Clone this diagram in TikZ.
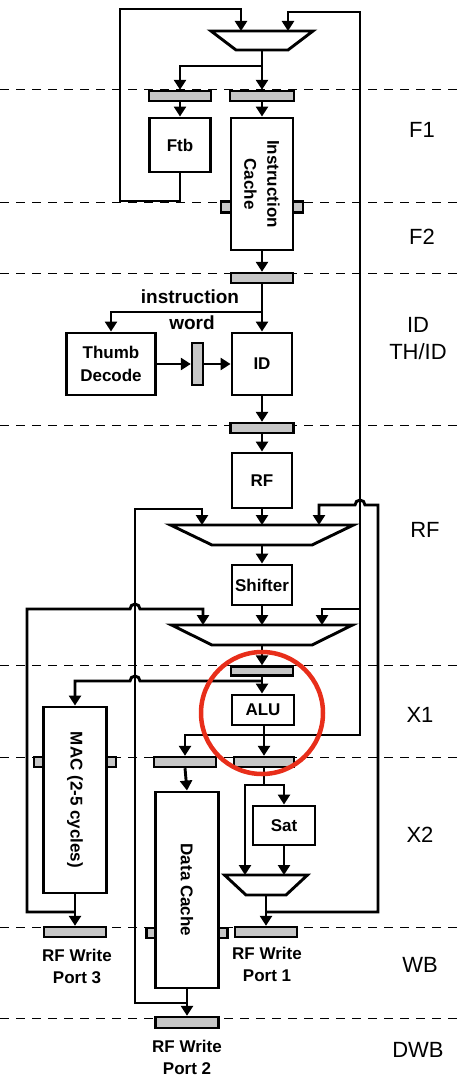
\documentclass[tikz,border=0pt]{standalone}
\usepackage{fontspec}
\setmainfont{Liberation Sans}
\usepackage{xcolor}
\usepackage{tikz}
\usetikzlibrary{arrows.meta}

\definecolor{ringred}{RGB}{232,46,26}

\begin{document}
\begin{tikzpicture}[x=1pt, y=-1pt, line width=2.9pt,
    >={Triangle[length=10pt,width=12pt]},
    unit/.style={draw, fill=white, inner sep=0pt},
    unittext/.style={inner sep=0pt, align=center, font=\fontsize{17}{23}\selectfont\bfseries},
    latch/.style={draw, fill=gray!45, line width=2.4pt, inner sep=0pt, minimum height=10pt},
    muxbox/.style={inner sep=0pt, outer sep=0pt},
    wordlbl/.style={font=\fontsize{19}{23}\selectfont\bfseries},
    portlbl/.style={align=center, font=\fontsize{17}{22}\selectfont\bfseries},
    stage/.style={align=center, font=\fontsize{22}{27}\selectfont},
    pipe/.style={line width=1pt, dash pattern=on 9pt off 7pt}]
    \useasboundingbox (0,0) rectangle (464,1078);

    % Pipeline boundaries
    \foreach \y in {90,202,273,425,665,757,927,1018} {
        \draw[pipe] (0,\y) -- (464,\y);
    }

    % Stage names
    \node[stage] (sF1) at (422,130) {F1};
    \node[stage] (sF2) at (422,237) {F2};
    \node[stage] (sID) at (418,339) {ID\\TH/ID};
    \node[stage] (sRF) at (425,530) {RF};
    \node[stage] (sX1) at (420,715) {X1};
    \node[stage] (sX2) at (420,835) {X2};
    \node[stage] (sWB) at (420,965) {WB};
    \node[stage] (sDWB) at (418,1050) {DWB};

    % Multiplexers (trapezoids drawn from their boxes)
    \node[muxbox, minimum width=102pt, minimum height=19pt] (pcmux) at (262,40.5) {};
    \node[muxbox, minimum width=183pt, minimum height=20pt] (rfmux) at (262,535) {};
    \node[muxbox, minimum width=181pt, minimum height=20pt] (exmux) at (262,635) {};
    \node[muxbox, minimum width=83pt, minimum height=20pt] (satmux) at (266,885) {};
    \foreach \m/\d in {pcmux/25, rfmux/41.5, exmux/40.5, satmux/21.5} {
        \draw[fill=white] (\m.north west) -- (\m.north east)
            -- ([xshift=-\d pt]\m.south east) -- ([xshift=\d pt]\m.south west) -- cycle;
    }

    % Fetch
    \node[latch, minimum width=62pt] (lftb) at (180,96) {};
    \node[latch, minimum width=64pt] (lpc) at (262,96) {};
    \node[unit, minimum width=61pt, minimum height=54pt] (ftb) at (180,145) {};
    \node[unittext] (ftbtxt) at (ftb) {Ftb};
    \node[latch, minimum width=82pt, minimum height=11pt] (licst) at (262,207) {};
    \node[unit, minimum width=62pt, minimum height=132pt] (icache) at (262,184) {};
    \node[unittext, rotate=-90] (icachetxt) at (icache) {Instruction\\Cache};

    % Decode
    \node[latch, minimum width=62pt] (lif) at (262,278) {};
    \node[unit, minimum width=89pt, minimum height=62pt] (thumb) at (111,364) {};
    \node[unittext] (thumbtxt) at (thumb) {Thumb\\Decode};
    \node[latch, minimum width=11pt, minimum height=42pt] (lth) at (197.5,364) {};
    \node[unit, minimum width=60pt, minimum height=62pt] (id) at (262,364) {};
    \node[unittext] (idtxt) at (id) {ID};
    \node[wordlbl] (iwtop) at (190,297) {instruction};
    \node[wordlbl] (iwbot) at (192,323) {word};

    % Register read and execute
    \node[latch, minimum width=63pt] (lid) at (262,428) {};
    \node[unit, minimum width=60pt, minimum height=55pt] (rf) at (262,480.5) {};
    \node[unittext] (rftxt) at (rf) {RF};
    \node[unit, minimum width=60pt, minimum height=40pt] (shifter) at (262,585) {};
    \node[unittext] (shiftertxt) at (shifter) {Shifter};
    \node[latch, minimum width=62pt, minimum height=9pt] (lex) at (262,671) {};
    \node[unit, minimum width=62pt, minimum height=30pt] (alu) at (263,710) {};
    \node[unittext] (alutxt) at (alu) {ALU};

    % Memory, saturation, multiply
    \node[latch, minimum width=82pt] (lmst) at (75,762) {};
    \node[unit, minimum width=63pt, minimum height=186pt] (mac) at (75,800) {};
    \node[unittext, rotate=-90] (mactxt) at (mac) {MAC (2-5 cycles)};
    \node[latch, minimum width=62pt] (lmem) at (185,762) {};
    \node[latch, minimum width=60pt] (lalu) at (264,762) {};
    \node[latch, minimum width=81pt] (ldst) at (187,933) {};
    \node[unit, minimum width=63pt, minimum height=196pt] (dcache) at (187,890) {};
    \node[unittext, rotate=-90] (dcachetxt) at (dcache) {Data Cache};
    \node[unit, minimum width=62pt, minimum height=39pt] (sat) at (284,825.5) {};
    \node[unittext] (sattxt) at (sat) {Sat};

    % Write ports
    \node[latch, minimum width=62pt] (lwb3) at (75,932) {};
    \node[latch, minimum width=62pt] (lwb1) at (266,932) {};
    \node[latch, minimum width=63pt, minimum height=11pt] (lwb2) at (187,1022.5) {};
    \node[portlbl] (p3) at (77,966) {RF Write\\Port 3};
    \node[portlbl] (p1) at (267,964) {RF Write\\Port 1};
    \node[portlbl] (p2) at (187,1057) {RF Write\\Port 2};

    % Split points
    \coordinate (fsplit) at (262,66);
    \coordinate (iword) at (262,312);
    \coordinate (macj) at (262,681);
    \coordinate (aluj) at (264,735);
    \coordinate (fwdalu) at (360,609);
    \coordinate (satj) at (264,785);
    \coordinate (wb1j) at (266,912);
    \coordinate (wb3j) at (75,912);
    \coordinate (wb2j) at (187,1003);

    % Fetch wires
    \draw[->] (pcmux.south) -- (lpc.north);
    \draw[->] (fsplit) -| (lftb.north);
    \draw[->] (lftb.south) -- (ftb.north);
    \draw[->] (lpc.south) -- (icache.north);
    \draw[->] (ftb.south) |- (120,201) |- (241,9) -- ([xshift=-21pt]pcmux.north);

    % Decode wires
    \draw[->] (icache.south) -- (lif.north);
    \draw[->] (lif.south) -- (id.north);
    \draw[->] (iword) -| (thumb.north);
    \draw[->] (thumb.east) -- (lth.west);
    \draw[->] (lth.east) -- (id.west);

    % Datapath
    \draw[->] (id.south) -- (lid.north);
    \draw[->] (lid.south) -- (rf.north);
    \draw[->] (rf.south) -- (rfmux.north);
    \draw[->] (rfmux.south) -- (shifter.north);
    \draw[->] (shifter.south) -- (exmux.north);
    \draw[->] (exmux.south) -- (lex.north);
    \draw[->] (lex.south) -- (lex.south |- alu.north);
    \draw[->] (macj) -- (140,681) arc[start angle=0, end angle=180, radius=5pt] -| (mac.north);

    % ALU result
    \draw (alu.south -| aluj) -- (aluj);
    \draw[->] (aluj) -- (lalu.north);
    \draw[->] (aluj) -| (lmem.north);
    \draw[->] (aluj) -| (360,12) -| ([xshift=26pt]pcmux.north);
    \draw[->] (fwdalu) -| ([xshift=60pt]exmux.north);

    % X2
    \draw[->] (lmem.south) -- (dcache.north);
    \draw (lalu.south) -- (satj);
    \draw[->] (satj) -| (sat.north);
    \draw[->] (satj) -| ([xshift=-21pt]satmux.north);
    \draw[->] (sat.south) -- (sat.south |- satmux.north);
    \draw[->] (satmux.south) -- (lwb1.north);
    \draw[->] (mac.south) -- (lwb3.north);
    \draw[->] (dcache.south) -- (lwb2.north);

    % Forwarding
    \draw[->] (wb1j) -| (378,505) -- (365,505) arc[start angle=0, end angle=180, radius=5pt] -| ([xshift=57pt]rfmux.north);
    \draw[->] (wb3j) -| (27,609) -- (130,609) arc[start angle=180, end angle=0, radius=5pt] -| ([xshift=-59pt]exmux.north);
    \draw[->] (wb2j) -| (135,509) -| ([xshift=-60pt]rfmux.north);

    % Highlight
    \node[draw=ringred, circle, line width=4.5pt, minimum size=122pt, inner sep=0pt] (focus) at (262,713) {};
\end{tikzpicture}
\end{document}
